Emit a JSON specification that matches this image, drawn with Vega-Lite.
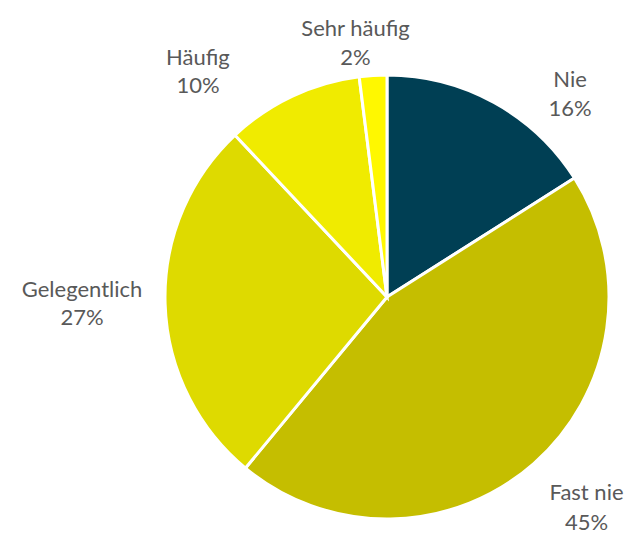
{
  "$schema": "https://vega.github.io/schema/vega-lite/v6.json",
  "autosize": {"type": "none"},
  "width": 482,
  "height": 484,
  "padding": {"left": 146, "top": 55, "right": 0, "bottom": 0},
  "background": "white",
  "config": {"view": {"stroke": null}, "text": {"font": "Lato", "fontSize": 22, "fill": "#595959", "align": "center", "baseline": "alphabetic"}},
  "data": {
    "values": [
      {"cat": "Nie", "pct": 0.16, "idx": 1},
      {"cat": "Fast nie", "pct": 0.45, "idx": 2},
      {"cat": "Gelegentlich", "pct": 0.27, "idx": 3},
      {"cat": "Häufig", "pct": 0.10, "idx": 4},
      {"cat": "Sehr häufig", "pct": 0.02, "idx": 5}
    ]
  },
  "layer": [
    {
      "mark": {"type": "arc", "outerRadius": 222, "stroke": "white", "strokeWidth": 3},
      "encoding": {
        "theta": {"field": "pct", "type": "quantitative", "stack": true},
        "order": {"field": "idx", "type": "quantitative"},
        "color": {
          "field": "cat", "type": "nominal", "legend": null,
          "scale": {
            "domain": ["Nie", "Fast nie", "Gelegentlich", "Häufig", "Sehr häufig"],
            "range": ["#003F54", "#C5BE00", "#DEDA00", "#F0EB00", "#FFF800"]
          }
        }
      }
    },
    {
      "mark": {"type": "text", "radius": 250, "dx": 62.6, "dy": 9.1},
      "encoding": {
        "theta": {"field": "pct", "type": "quantitative", "stack": true},
        "order": {"field": "idx", "type": "quantitative"},
        "text": {"condition": {"test": "datum.cat === 'Nie'", "field": "cat"}, "value": ""}
      }
    },
    {
      "mark": {"type": "text", "radius": 250, "dx": 62.6, "dy": 38.1},
      "encoding": {
        "theta": {"field": "pct", "type": "quantitative", "stack": true},
        "order": {"field": "idx", "type": "quantitative"},
        "text": {"condition": {"test": "datum.cat === 'Nie'", "field": "pct", "type": "quantitative", "format": ".0%"}, "value": ""}
      }
    },
    {
      "mark": {"type": "text", "radius": 250, "dx": 34.2, "dy": 15.5},
      "encoding": {
        "theta": {"field": "pct", "type": "quantitative", "stack": true},
        "order": {"field": "idx", "type": "quantitative"},
        "text": {"condition": {"test": "datum.cat === 'Fast nie'", "field": "cat"}, "value": ""}
      }
    },
    {
      "mark": {"type": "text", "radius": 250, "dx": 34.2, "dy": 45.5},
      "encoding": {
        "theta": {"field": "pct", "type": "quantitative", "stack": true},
        "order": {"field": "idx", "type": "quantitative"},
        "text": {"condition": {"test": "datum.cat === 'Fast nie'", "field": "pct", "type": "quantitative", "format": ".0%"}, "value": ""}
      }
    },
    {
      "mark": {"type": "text", "radius": 250, "dx": -55.1, "dy": -8.2},
      "encoding": {
        "theta": {"field": "pct", "type": "quantitative", "stack": true},
        "order": {"field": "idx", "type": "quantitative"},
        "text": {"condition": {"test": "datum.cat === 'Gelegentlich'", "field": "cat"}, "value": ""}
      }
    },
    {
      "mark": {"type": "text", "radius": 250, "dx": -55.1, "dy": 20.1},
      "encoding": {
        "theta": {"field": "pct", "type": "quantitative", "stack": true},
        "order": {"field": "idx", "type": "quantitative"},
        "text": {"condition": {"test": "datum.cat === 'Gelegentlich'", "field": "pct", "type": "quantitative", "format": ".0%"}, "value": ""}
      }
    },
    {
      "mark": {"type": "text", "radius": 250, "dx": -82.6, "dy": -5.8},
      "encoding": {
        "theta": {"field": "pct", "type": "quantitative", "stack": true},
        "order": {"field": "idx", "type": "quantitative"},
        "text": {"condition": {"test": "datum.cat === 'Häufig'", "field": "cat"}, "value": ""}
      }
    },
    {
      "mark": {"type": "text", "radius": 250, "dx": -82.6, "dy": 22.2},
      "encoding": {
        "theta": {"field": "pct", "type": "quantitative", "stack": true},
        "order": {"field": "idx", "type": "quantitative"},
        "text": {"condition": {"test": "datum.cat === 'Häufig'", "field": "pct", "type": "quantitative", "format": ".0%"}, "value": ""}
      }
    },
    {
      "mark": {"type": "text", "radius": 250, "dx": -15.8, "dy": -11.5},
      "encoding": {
        "theta": {"field": "pct", "type": "quantitative", "stack": true},
        "order": {"field": "idx", "type": "quantitative"},
        "text": {"condition": {"test": "datum.cat === 'Sehr häufig'", "field": "cat"}, "value": ""}
      }
    },
    {
      "mark": {"type": "text", "radius": 250, "dx": -15.8, "dy": 17.5},
      "encoding": {
        "theta": {"field": "pct", "type": "quantitative", "stack": true},
        "order": {"field": "idx", "type": "quantitative"},
        "text": {"condition": {"test": "datum.cat === 'Sehr häufig'", "field": "pct", "type": "quantitative", "format": ".0%"}, "value": ""}
      }
    }
  ]
}
